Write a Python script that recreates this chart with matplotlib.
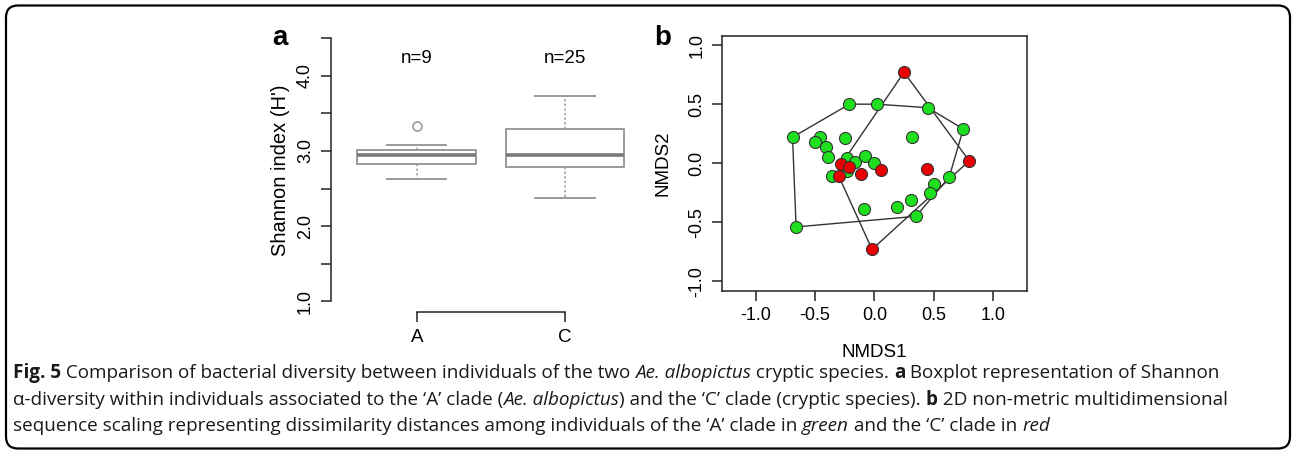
# Figura 5: boxplot de Shannon (a) y NMDS (b) con pie de figura
import numpy as np
import matplotlib.pyplot as plt
from matplotlib.patches import FancyBboxPatch
from matplotlib.font_manager import FontProperties
from matplotlib.transforms import IdentityTransform

plt.rcParams['font.family'] = ['Liberation Sans', 'DejaVu Sans']

# - - - - Datos - - - -

# Panel a: resumen de los boxplots
grupos = ["A", "C"]
n_grupo = [9, 25]
bigote_inf = [2.63, 2.37]
caja_inf = [2.83, 2.79]
mediana = [2.95, 2.95]
caja_sup = [3.01, 3.29]
bigote_sup = [3.08, 3.73]
atipicos = [[3.33], []]

# Panel b: coordenadas NMDS
verde_x = [-0.69, -0.21, 0.02, 0.45, 0.75, 0.63, 0.35, -0.66, -0.46, -0.50,
           -0.41, -0.39, -0.25, -0.23, -0.16, -0.08, 0.00, -0.23, -0.36, 0.32,
           0.50, 0.47, 0.31, 0.19, -0.09]
verde_y = [0.22, 0.50, 0.50, 0.47, 0.29, -0.12, -0.45, -0.54, 0.22, 0.18,
           0.14, 0.05, 0.21, 0.04, 0.01, 0.06, 0.00, -0.07, -0.11, 0.22,
           -0.18, -0.25, -0.31, -0.37, -0.39]
rojo_x = [0.25, 0.80, -0.02, -0.30, -0.28, -0.21, -0.11, 0.06, 0.44]
rojo_y = [0.77, 0.02, -0.73, -0.11, -0.01, -0.03, -0.09, -0.06, -0.05]

# Pie de figura: (texto, estilo)
pie = [
    [("Fig. 5", "b"), (" Comparison of bacterial diversity between individuals of the two ", "n"),
     ("Ae. albopictus", "i"), (" cryptic species. ", "n"), ("a", "b"),
     (" Boxplot representation of Shannon", "n")],
    [("\u03b1-diversity within individuals associated to the \u2018A\u2019 clade (", "n"),
     ("Ae. albopictus", "i"), (") and the \u2018C\u2019 clade (cryptic species). ", "n"),
     ("b", "b"), (" 2D non-metric multidimensional", "n")],
    [("sequence scaling representing dissimilarity distances among individuals of the \u2018A\u2019 clade in ", "n"),
     ("green", "i"), (" and the \u2018C\u2019 clade in ", "n"), ("red", "i")],
]

W, H = 1292, 450
fig = plt.figure(figsize=(W / 100, H / 100), dpi=100)

# - - - - Panel a: boxplot - - - -
ax1 = fig.add_axes([0.256, 0.3067, 0.2479, 0.632])
gris = "#9a9a9a"
stats = []
for i in range(len(grupos)):
    stats.append({"med": mediana[i], "q1": caja_inf[i], "q3": caja_sup[i],
                  "whislo": bigote_inf[i], "whishi": bigote_sup[i],
                  "fliers": atipicos[i], "label": grupos[i]})
ax1.bxp(stats, positions=[1, 2], widths=0.8,
        boxprops=dict(color=gris, lw=1.4),
        medianprops=dict(color="#7a7a7a", lw=2.6),
        whiskerprops=dict(color=gris, lw=1.1, linestyle=(0, (1.5, 1.5))),
        capprops=dict(color=gris, lw=1.4),
        flierprops=dict(marker="o", markerfacecolor="none", markeredgecolor=gris,
                        markersize=6.5, markeredgewidth=1.2))
for i in range(len(grupos)):
    ax1.text(i + 1, 4.23, "n=%d" % n_grupo[i], ha="center", va="center", fontsize=13.5)

ax1.set_xlim(0.42, 2.58)
ax1.set_ylim(0.86, 4.64)
ax1.spines["top"].set_visible(False)
ax1.spines["right"].set_visible(False)
ax1.spines["left"].set_bounds(1, 4.5)
ax1.spines["bottom"].set_bounds(1, 2)
for s in ("left", "bottom"):
    ax1.spines[s].set_color("#222222")
    ax1.spines[s].set_linewidth(1.1)
yt = np.arange(1.0, 4.51, 0.5)
ax1.set_yticks(yt)
ax1.set_yticklabels(["%.1f" % v if abs(v - round(v)) < 1e-9 else "" for v in yt],
                    rotation=90, va="center", fontsize=13)
ax1.set_xticks([1, 2])
ax1.set_xticklabels(grupos, fontsize=13.5)
ax1.tick_params(length=7, width=1.1, color="#222222", pad=5)
ax1.set_ylabel("Shannon index (H')", fontsize=14.5, labelpad=5)
fig.text(272 / W, 1 - 38 / H, "a", fontsize=20, fontweight="bold", ha="left", va="center")


# - - - - Panel b: NMDS - - - -
def envolvente(xs, ys):
    # Envolvente convexa (cadena monótona)
    pts = sorted(zip(xs, ys))

    def giro(o, a, b):
        return (a[0] - o[0]) * (b[1] - o[1]) - (a[1] - o[1]) * (b[0] - o[0])

    inf, sup = [], []
    for p in pts:
        while len(inf) >= 2 and giro(inf[-2], inf[-1], p) <= 0:
            inf.pop()
        inf.append(p)
    for p in reversed(pts):
        while len(sup) >= 2 and giro(sup[-2], sup[-1], p) <= 0:
            sup.pop()
        sup.append(p)
    casco = inf[:-1] + sup[:-1]
    casco.append(casco[0])
    return [p[0] for p in casco], [p[1] for p in casco]


ax2 = fig.add_axes([0.5588, 0.354, 0.2361, 0.5667])
for xs, ys in ((verde_x, verde_y), (rojo_x, rojo_y)):
    hx, hy = envolvente(xs, ys)
    ax2.plot(hx, hy, color="#333333", lw=1.0, zorder=1)
ax2.scatter(verde_x, verde_y, s=75, c="#1fe01f", edgecolors="#333333", linewidths=0.8, zorder=2)
ax2.scatter(rojo_x, rojo_y, s=75, c="#e80000", edgecolors="#333333", linewidths=0.8, zorder=3)
ax2.set_xlim(-1.285, 1.287)
ax2.set_ylim(-1.08, 1.08)
ticks_b = [-1.0, -0.5, 0.0, 0.5, 1.0]
ax2.set_xticks(ticks_b)
ax2.set_yticks(ticks_b)
ax2.set_xticklabels(["%.1f" % v for v in ticks_b], fontsize=13)
ax2.set_yticklabels(["%.1f" % v for v in ticks_b], rotation=90, va="center", fontsize=13)
ax2.tick_params(length=7, width=1.1, color="#222222", pad=5)
for s in ax2.spines.values():
    s.set_color("#222222")
    s.set_linewidth(1.1)
ax2.set_xlabel("NMDS1", fontsize=13.5, labelpad=14)
ax2.set_ylabel("NMDS2", fontsize=13.5, labelpad=12)
fig.text(654 / W, 1 - 38 / H, "b", fontsize=20, fontweight="bold", ha="left", va="center")

# - - - - Pie de figura - - - -
renderer = fig.canvas.get_renderer()
tam_pie = 13.55


def propiedades(estilo):
    return FontProperties(family=["Open Sans", "DejaVu Sans"], size=tam_pie,
                          weight="bold" if estilo == "b" else "normal",
                          style="italic" if estilo == "i" else "normal")


def ancho(texto, prop):
    w1 = renderer.get_text_width_height_descent("|" + texto + "|", prop, ismath=False)[0]
    w0 = renderer.get_text_width_height_descent("||", prop, ismath=False)[0]
    return w1 - w0


bases = [378, 405, 431]
for linea, base in zip(pie, bases):
    x = 13.0
    for texto, estilo in linea:
        prop = propiedades(estilo)
        fig.text(x / W, 1 - base / H, texto, fontproperties=prop, ha="left", va="baseline",
                 color="#1a1a1a")
        x += ancho(texto, prop)

# Marco redondeado de toda la figura
marco = FancyBboxPatch((6, 1.5), 1284, 443, boxstyle="round,pad=0,rounding_size=12",
                       transform=IdentityTransform(), fill=False, edgecolor="black", lw=1.6)
fig.patches.append(marco)

fig.savefig("out.png", dpi=100)
